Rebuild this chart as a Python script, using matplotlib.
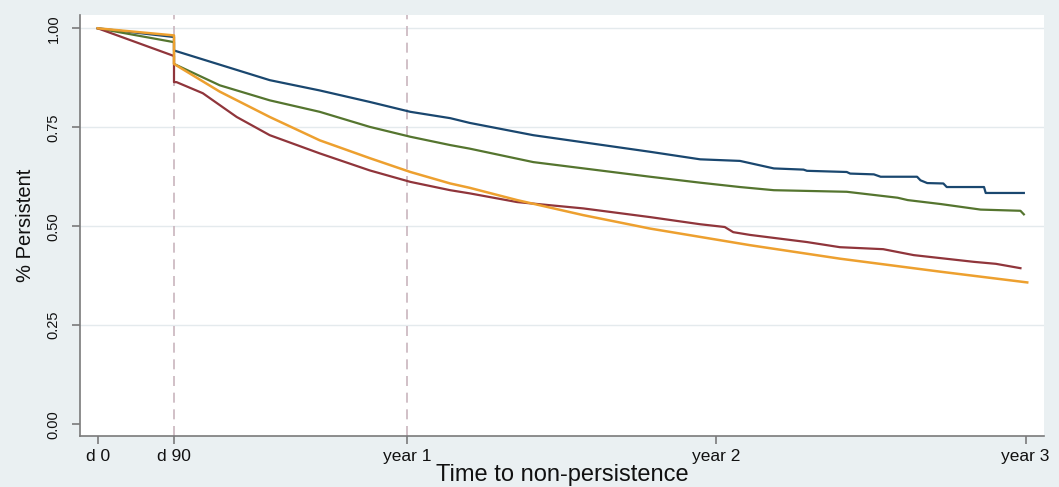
import matplotlib
matplotlib.use("Agg")
import matplotlib.pyplot as plt

# ---- data (days since start, proportion persistent) ----
blue_days = [0, 90, 90, 203, 262, 321, 369, 416, 439, 514, 652, 711, 758, 798, 833, 837, 884, 888, 916, 924, 967, 971, 979, 998, 1002, 1046, 1048, 1093]
blue_vals = [1.0, 0.978, 0.944, 0.869, 0.843, 0.814, 0.789, 0.773, 0.761, 0.730, 0.688, 0.669, 0.665, 0.646, 0.643, 0.640, 0.637, 0.633, 0.631, 0.625, 0.625, 0.616, 0.609, 0.608, 0.599, 0.599, 0.584, 0.584]

green_days = [0, 90, 90, 144, 203, 262, 321, 369, 416, 439, 514, 652, 711, 758, 798, 884, 944, 956, 995, 1042, 1089, 1093]
green_vals = [1.0, 0.965, 0.910, 0.856, 0.818, 0.789, 0.751, 0.726, 0.705, 0.696, 0.662, 0.625, 0.610, 0.599, 0.591, 0.587, 0.572, 0.566, 0.556, 0.542, 0.539, 0.530]

red_days = [0, 90, 90, 93, 124, 164, 203, 262, 321, 369, 416, 439, 495, 573, 652, 711, 740, 750, 770, 837, 876, 927, 963, 1034, 1060, 1089]
red_vals = [1.0, 0.930, 0.864, 0.864, 0.836, 0.776, 0.730, 0.684, 0.641, 0.612, 0.591, 0.583, 0.561, 0.545, 0.523, 0.505, 0.498, 0.485, 0.478, 0.460, 0.447, 0.442, 0.427, 0.410, 0.405, 0.394]

orange_days = [0, 90, 90, 144, 203, 262, 321, 369, 416, 439, 495, 573, 652, 770, 876, 995, 1097]
orange_vals = [1.0, 0.982, 0.910, 0.840, 0.776, 0.717, 0.672, 0.637, 0.608, 0.597, 0.566, 0.528, 0.494, 0.452, 0.418, 0.385, 0.358]

xtick_pos = [0, 90, 365, 730, 1095]
xtick_labels = ["d 0", "d 90", "year 1", "year 2", "year 3"]
ytick_pos = [0.0, 0.25, 0.5, 0.75, 1.0]
ytick_labels = ["0.00", "0.25", "0.50", "0.75", "1.00"]
vline_pos = [90, 365]

# ---- style ----
bg = "#eaf0f2"
plt.rcParams["font.family"] = ["Liberation Sans", "DejaVu Sans"]

fig = plt.figure(figsize=(10.59, 4.87), dpi=100, facecolor=bg)
ax = fig.add_axes([0.0755, 0.1047, 0.9105, 0.864])
ax.set_facecolor("white")

for y in ytick_pos[1:]:
    ax.axhline(y, color="#e4eaed", lw=1.0, zorder=0)
for x in vline_pos:
    ax.axvline(x, color="#c9b5be", lw=1.2, ls=(0, (6, 4)), zorder=1)

ax.plot(blue_days, blue_vals, color="#1a476f", lw=1.6, zorder=3)
ax.plot(green_days, green_vals, color="#55752f", lw=1.6, zorder=3)
ax.plot(red_days, red_vals, color="#90353b", lw=1.6, zorder=3)
ax.plot(orange_days, orange_vals, color="#eda02f", lw=1.8, zorder=4)

ax.set_xlim(-21, 1117)
ax.set_ylim(-0.03, 1.033)

ax.set_xticks(xtick_pos)
ax.set_xticklabels(xtick_labels, fontsize=12.5)
ax.set_yticks(ytick_pos)
ax.set_yticklabels(ytick_labels, fontsize=10.5, rotation=90, va="center")

for s in ["top", "right"]:
    ax.spines[s].set_visible(False)
for s in ["left", "bottom"]:
    ax.spines[s].set_color("#7a7a7a")
    ax.spines[s].set_linewidth(1.2)
ax.tick_params(axis="both", color="#7a7a7a", length=6, width=1.2, labelcolor="#111111")
ax.tick_params(axis="x", pad=3)
ax.tick_params(axis="y", pad=8)

ax.set_xlabel("Time to non-persistence", fontsize=17, labelpad=0, color="#111111")
ax.set_ylabel("% Persistent", fontsize=14.5, labelpad=8, color="#111111")

fig.savefig("out.png", dpi=100, facecolor=bg)
